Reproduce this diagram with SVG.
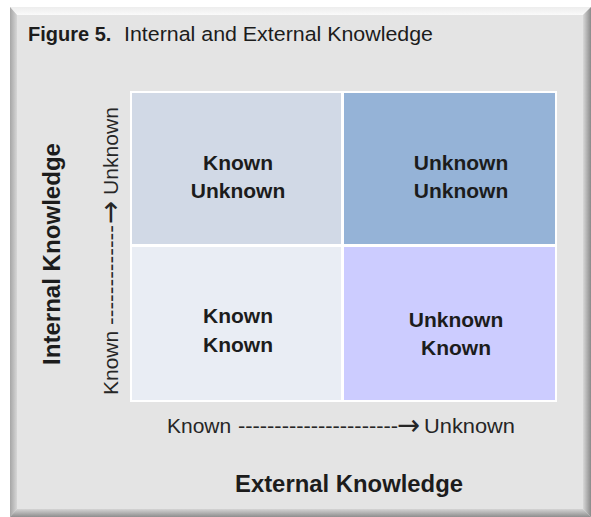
<svg xmlns="http://www.w3.org/2000/svg" width="591" height="517" viewBox="0 0 591 517">
  <defs>
    <style>
      text { font-family: "Liberation Sans", Arial, sans-serif; fill: #1c1c1c; }
      .q { font-size: 21px; font-weight: bold; text-anchor: middle; }
      .ax { font-size: 21px; fill: #262626; }
      .arr { font-family: "DejaVu Sans", sans-serif; font-size: 29px; }
      .at { font-size: 23.5px; font-weight: bold; text-anchor: middle; }
    </style>
    <linearGradient id="gTop" x1="0" y1="0" x2="0" y2="1">
      <stop offset="0" stop-color="#EDEDED"/>
      <stop offset="1" stop-color="#FAFAFA"/>
    </linearGradient>
    <linearGradient id="gLeft" x1="0" y1="0" x2="1" y2="0">
      <stop offset="0" stop-color="#A6A6A6"/>
      <stop offset="1" stop-color="#D6D6D6"/>
    </linearGradient>
    <linearGradient id="gRight" x1="0" y1="0" x2="1" y2="0">
      <stop offset="0" stop-color="#D8D8D8"/>
      <stop offset="1" stop-color="#8A8A8A"/>
    </linearGradient>
    <linearGradient id="gBottom" x1="0" y1="0" x2="0" y2="1">
      <stop offset="0" stop-color="#D4D4D4"/>
      <stop offset="1" stop-color="#8E8E8E"/>
    </linearGradient>
  </defs>

  <rect width="591" height="517" fill="#FFFFFF"/>

  <g id="panel">
    <rect x="10" y="7" width="581" height="510" fill="#E4E4E4"/>
    <polygon points="10,7 591,7 583,15 17,15" fill="url(#gTop)"/>
    <polygon points="10,7 17,15 17,509 10,517" fill="url(#gLeft)"/>
    <polygon points="591,7 591,517 583,509 583,15" fill="url(#gRight)"/>
    <polygon points="10,517 17,509 583,509 591,517" fill="url(#gBottom)"/>
  </g>

  <g id="title">
    <text x="28" y="40.5" style="font-size:20px;font-weight:bold">Figure 5.</text>
    <text x="124" y="40.5" style="font-size:20.5px" textLength="309" lengthAdjust="spacingAndGlyphs">Internal and External Knowledge</text>
  </g>

  <rect x="130" y="91" width="427" height="311" fill="#FFFFFF"/>

  <g id="known-unknown">
    <rect x="132" y="93" width="209" height="151" fill="#D1D9E6"/>
    <text class="q" x="238" y="170">Known</text>
    <text class="q" x="238" y="198">Unknown</text>
  </g>

  <g id="unknown-unknown">
    <rect x="344" y="93" width="211" height="151" fill="#95B3D7"/>
    <text class="q" x="461" y="170">Unknown</text>
    <text class="q" x="461" y="198">Unknown</text>
  </g>

  <g id="known-known">
    <rect x="132" y="247" width="209" height="153" fill="#E9EDF4"/>
    <text class="q" x="238" y="323">Known</text>
    <text class="q" x="238" y="352">Known</text>
  </g>

  <g id="unknown-known">
    <rect x="344" y="247" width="211" height="153" fill="#CCCCFF"/>
    <text class="q" x="456" y="327">Unknown</text>
    <text class="q" x="456" y="355">Known</text>
  </g>

  <g id="x-axis">
    <text class="ax" y="433"><tspan x="167">Known</tspan><tspan x="238" textLength="160" lengthAdjust="spacingAndGlyphs">----------------------</tspan><tspan class="arr" x="397" y="435" textLength="23" lengthAdjust="spacingAndGlyphs">→</tspan><tspan x="424" y="433" textLength="91" lengthAdjust="spacingAndGlyphs">Unknown</tspan></text>
    <text class="at" x="349" y="492" textLength="228" lengthAdjust="spacingAndGlyphs">External Knowledge</text>
  </g>

  <g id="y-axis">
    <text class="ax" transform="rotate(-90)" y="118"><tspan x="-395">Known</tspan><tspan x="-325" textLength="100" lengthAdjust="spacingAndGlyphs">-------------</tspan><tspan class="arr" x="-224" y="120" textLength="23" lengthAdjust="spacingAndGlyphs">→</tspan><tspan x="-195" y="118" textLength="88" lengthAdjust="spacingAndGlyphs">Unknown</tspan></text>
    <text class="at" transform="rotate(-90)" x="-254" y="60" textLength="222" lengthAdjust="spacingAndGlyphs">Internal Knowledge</text>
  </g>
</svg>
